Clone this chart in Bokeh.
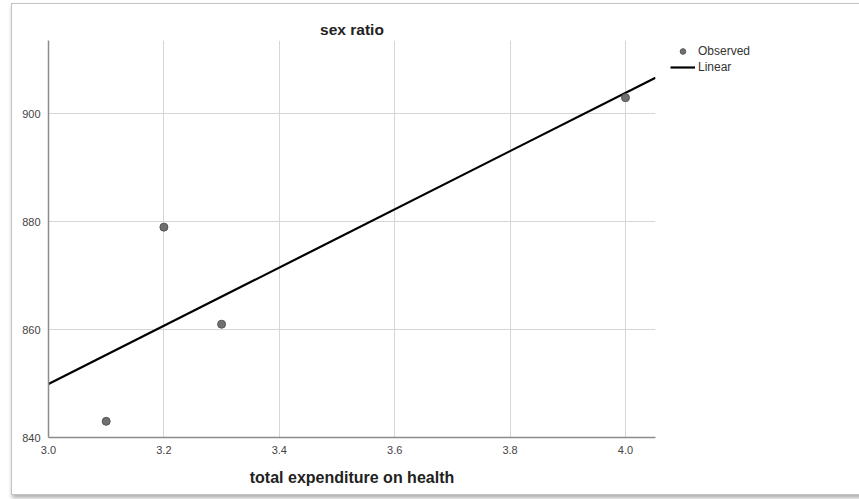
import numpy as np
from bokeh.plotting import figure
from bokeh.models import Range1d, Legend, LegendItem, FixedTicker, NumeralTickFormatter
from bokeh.embed import file_html
from bokeh.resources import INLINE

# data
expenditure = [3.1, 3.2, 3.3, 4.0]
sex_ratio = [843, 879, 861, 903]
x_ticks = [3.0, 3.2, 3.4, 3.6, 3.8, 4.0]
y_ticks = [840, 860, 880, 900]
x_lo, x_hi = 3.0, 4.052
y_lo, y_hi = 840, 913.6

# linear fit
slope, intercept = np.polyfit(np.array(expenditure), np.array(sex_ratio), 1)
line_x = [x_lo, x_hi]
line_y = [intercept + slope * v for v in line_x]

FONT = "Liberation Sans"

p = figure(frame_width=607, frame_height=397,
           x_range=Range1d(x_lo, x_hi), y_range=Range1d(y_lo, y_hi),
           output_backend="svg", toolbar_location=None,
           title="sex ratio",
           min_border_left=36, min_border_right=203, min_border_top=36, min_border_bottom=57)
p.styles = {"border": "1px solid #c4c4c4", "box-shadow": "1px 3px 4px #b0b0b0",
            "margin-left": "11px", "margin-top": "3px"}
p.outline_line_color = None
p.background_fill_color = "white"
p.border_fill_color = "white"

p.title.text_font = FONT
p.title.text_font_size = "15.5px"
p.title.text_font_style = "bold"
p.title.text_color = "#222222"
p.title.align = "center"
p.title.offset = 89
p.title.standoff = 6

for ax in (p.xaxis[0], p.yaxis[0]):
    ax.axis_line_color = "#8c8c8c"
    ax.axis_line_width = 1.5
    ax.major_tick_line_color = None
    ax.minor_tick_line_color = None
    ax.major_label_text_font = FONT
    ax.major_label_text_font_size = "11px"
    ax.major_label_text_color = "#444444"

p.xaxis[0].ticker = FixedTicker(ticks=x_ticks)
p.xaxis[0].formatter = NumeralTickFormatter(format="0.0")
p.yaxis[0].ticker = FixedTicker(ticks=y_ticks)
p.xaxis[0].major_label_standoff = 2
p.yaxis[0].major_label_standoff = 2
p.xaxis[0].axis_label = "total expenditure on health"
p.xaxis[0].axis_label_text_font = FONT
p.xaxis[0].axis_label_text_font_size = "16px"
p.xaxis[0].axis_label_text_font_style = "bold"
p.xaxis[0].axis_label_text_color = "#222222"
p.xaxis[0].axis_label_standoff = 12

p.xgrid.ticker = FixedTicker(ticks=x_ticks)
p.ygrid.ticker = FixedTicker(ticks=y_ticks)
p.grid.grid_line_color = "#d6d6d6"
p.grid.grid_line_width = 1

ln = p.line(line_x, line_y, line_color="black", line_width=2.2)
sc = p.scatter(expenditure, sex_ratio, size=8, fill_color="#707070", line_color="#555555", line_width=1)

legend = Legend(items=[LegendItem(label="Observed", renderers=[sc]),
                       LegendItem(label="Linear", renderers=[ln])],
                location=(15, 363), border_line_color=None, background_fill_alpha=0,
                label_text_font=FONT, label_text_font_size="12px", label_text_color="#333333",
                glyph_width=25, glyph_height=14, label_height=14, spacing=2, padding=0, margin=0,
                label_standoff=3)
p.add_layout(legend, "right")

open("out.html", "w").write(file_html(p, INLINE))
